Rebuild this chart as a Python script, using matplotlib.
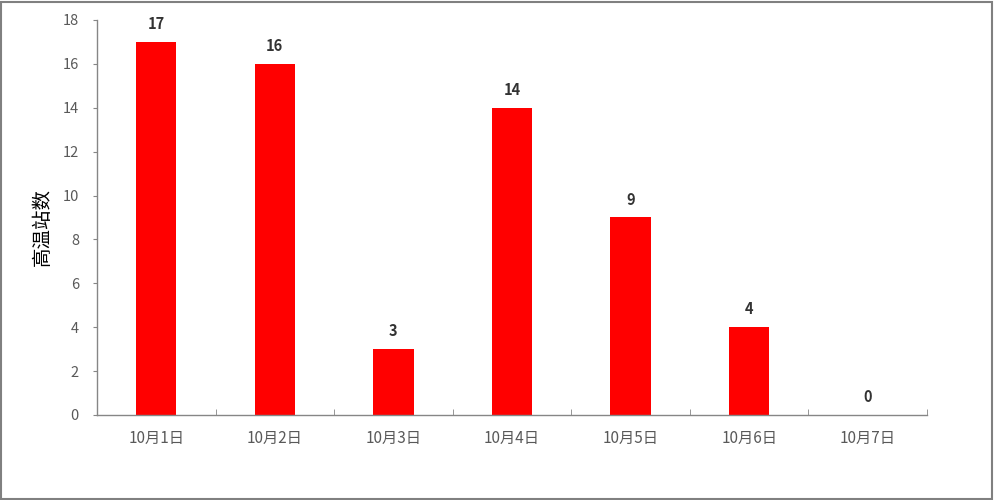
import matplotlib
matplotlib.use("Agg")
import matplotlib.pyplot as plt
from matplotlib.patches import Rectangle

plt.rcParams['font.family'] = ['Noto Sans CJK SC', 'DejaVu Sans']

categories = ["10月1日", "10月2日", "10月3日", "10月4日", "10月5日", "10月6日", "10月7日"]
values = [17, 16, 3, 14, 9, 4, 0]
yticks = [0, 2, 4, 6, 8, 10, 12, 14, 16, 18]
ylabel = "高温站数"

fig = plt.figure(figsize=(9.94, 5.0), dpi=100)
ax = fig.add_axes([97/994, 1-415/500, (927-97)/994, (415-20)/500])

x = list(range(len(categories)))
bars = ax.bar(x, values, width=0.34, color="#FF0000", zorder=2)
for xi, v in zip(x, values):
    ax.text(xi, v + 0.45, str(v), ha="center", va="bottom", fontsize=10.5,
            color="#333333", fontweight="bold")

ax.set_xlim(-0.5, len(categories) - 0.5)
ax.set_ylim(0, 18)
ax.set_yticks(yticks)
ax.set_yticklabels([str(t) for t in yticks], fontsize=10.5, color="#595959")
ax.set_xticks(x)
ax.set_xticklabels(categories, fontsize=11, color="#595959")
ax.tick_params(axis="x", length=0, pad=11)
ax.set_xticks([i + 0.5 for i in range(-1, len(categories))], minor=True)
ax.tick_params(axis="x", which="minor", direction="in", length=4, color="#868686")
ax.tick_params(axis="y", direction="out", length=3, color="#868686", pad=10)

for s in ["top", "right"]:
    ax.spines[s].set_visible(False)
for s in ["left", "bottom"]:
    ax.spines[s].set_color("#868686")
    ax.spines[s].set_linewidth(1.0)

ax.set_ylabel(ylabel, fontsize=14, color="#000000", va="center", ha="center")
ax.yaxis.set_label_coords((42 - 97) / 830, (415 - 227) / 395)

fig.patches.append(Rectangle((0.001, 0.002), 0.997, 0.995, transform=fig.transFigure,
                             fill=False, edgecolor="#808080", linewidth=1.5))

fig.savefig("out.png", dpi=100)
